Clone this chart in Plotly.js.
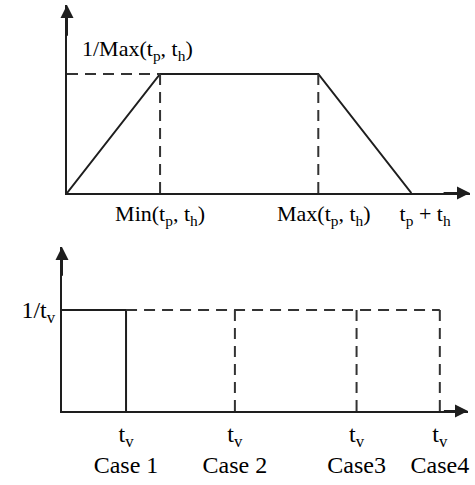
<!DOCTYPE html>
<html>
<head>
<meta charset="utf-8">
<script src="https://cdn.plot.ly/plotly-3.0.1.min.js"></script>
<style>
  body { margin: 0; background: #fff; }
  #chart { width: 475px; height: 485px; }
</style>
</head>
<body>
<div id="chart"></div>
<script>
// top panel: trapezoid made of the two durations
const tShort = 1;      // Min(tp, th)
const tLong = 2.7;     // Max(tp, th)
const tSum = tShort + tLong;
const plateau = 1 / tLong;
const trapX = [0, tShort, tLong, tSum];
const trapY = [0, plateau, plateau, 0];
const topTicks = [tShort, tLong, tSum];
const topTickText = ['Min(t<sub>p</sub>, t<sub>h</sub>)', '  Max(t<sub>p</sub>, t<sub>h</sub>)', '     t<sub>p</sub> + t<sub>h</sub>'];

// bottom panel: uniform pulse for four cases
const caseNames = ['Case 1', 'Case 2', 'Case3', 'Case4'];
const caseTv = [1, 2.7, 4.6, 5.9];
const level = 1;

const ink = '#1e1e1e';
const dashInk = '#333';
const dash = '11px,7px';
const serif = 'Liberation Serif, Times New Roman, serif';

const data = [
    {
        x: trapX, y: trapY, mode: 'lines', type: 'scatter',
        line: {color: ink, width: 2}, xaxis: 'x', yaxis: 'y'
    },
    {
        x: [0, tShort, null, tShort, tShort, null, tLong, tLong],
        y: [plateau, plateau, null, plateau, 0, null, plateau, 0],
        mode: 'lines', type: 'scatter',
        line: {color: dashInk, width: 2, dash: dash}, xaxis: 'x', yaxis: 'y'
    },
    {
        x: [0, caseTv[0], caseTv[0]],
        y: [level, level, 0],
        mode: 'lines', type: 'scatter',
        line: {color: ink, width: 2}, xaxis: 'x2', yaxis: 'y2'
    }
];

// dashed outlines for the longer cases
const dx = [caseTv[0], caseTv[caseTv.length - 1]];
const dy = [level, level];
for (const tv of caseTv.slice(1)) {
    dx.push(null, tv, tv);
    dy.push(null, level, 0);
}
data.push({
    x: dx, y: dy, mode: 'lines', type: 'scatter',
    line: {color: dashInk, width: 2, dash: dash}, xaxis: 'x2', yaxis: 'y2'
});

const topXMax = 4.33, topYMax = 0.585;
const botXMax = 6.34, botYMax = 1.624;

function arrow(xref, yref, x, y, ax, ay) {
    return {
        xref: xref, yref: yref, axref: xref, ayref: yref,
        x: x, y: y, ax: ax, ay: ay, text: '', showarrow: true,
        arrowhead: 2, arrowsize: 1.3, arrowwidth: 2, arrowcolor: ink
    };
}

const layout = {
    width: 475, height: 485,
    margin: {l: 0, r: 0, t: 0, b: 0},
    paper_bgcolor: '#fff', plot_bgcolor: 'rgba(0,0,0,0)',
    showlegend: false,
    font: {family: serif, size: 22, color: '#000'},
    xaxis: {
        domain: [67 / 475, 470 / 475], range: [0, topXMax],
        showgrid: false, zeroline: false, showline: true, linecolor: ink, linewidth: 2,
        tickvals: topTicks, ticktext: topTickText, ticks: '', anchor: 'y', tickangle: 0,
        tickfont: {family: serif, size: 22}
    },
    yaxis: {
        domain: [292 / 485, 480 / 485], range: [0, topYMax],
        showgrid: false, zeroline: false, showline: true, linecolor: ink, linewidth: 2,
        showticklabels: false, ticks: '', anchor: 'x'
    },
    xaxis2: {
        domain: [62 / 475, 468 / 475], range: [0, botXMax],
        showgrid: false, zeroline: false, showline: true, linecolor: ink, linewidth: 2,
        tickvals: caseTv, ticktext: caseNames.map(n => 't<sub>v</sub><br>' + n),
        ticks: '', anchor: 'y2', tickangle: 0, tickfont: {family: serif, size: 24}
    },
    yaxis2: {
        domain: [74 / 485, 238 / 485], range: [0, botYMax],
        showgrid: false, zeroline: false, showline: true, linecolor: ink, linewidth: 2,
        tickvals: [level], ticktext: ['1/t<sub>v</sub>'], ticks: '', anchor: 'x2',
        tickfont: {family: serif, size: 24}
    },
    annotations: [
        {
            xref: 'x', yref: 'y', x: 0.76, y: 0.445, showarrow: false,
            text: '1/Max(t<sub>p</sub>, t<sub>h</sub>)', font: {family: serif, size: 22},
            xanchor: 'center', yanchor: 'middle'
        },
        arrow('x', 'y', topXMax, 0, topXMax - 0.3, 0),
        arrow('x', 'y', 0, topYMax, 0, topYMax - 0.1),
        arrow('x2', 'y2', botXMax, 0, botXMax - 0.4, 0),
        arrow('x2', 'y2', 0, botYMax, 0, botYMax - 0.3)
    ]
};

Plotly.newPlot('chart', data, layout, {displayModeBar: false, staticPlot: true});
</script>
</body>
</html>
